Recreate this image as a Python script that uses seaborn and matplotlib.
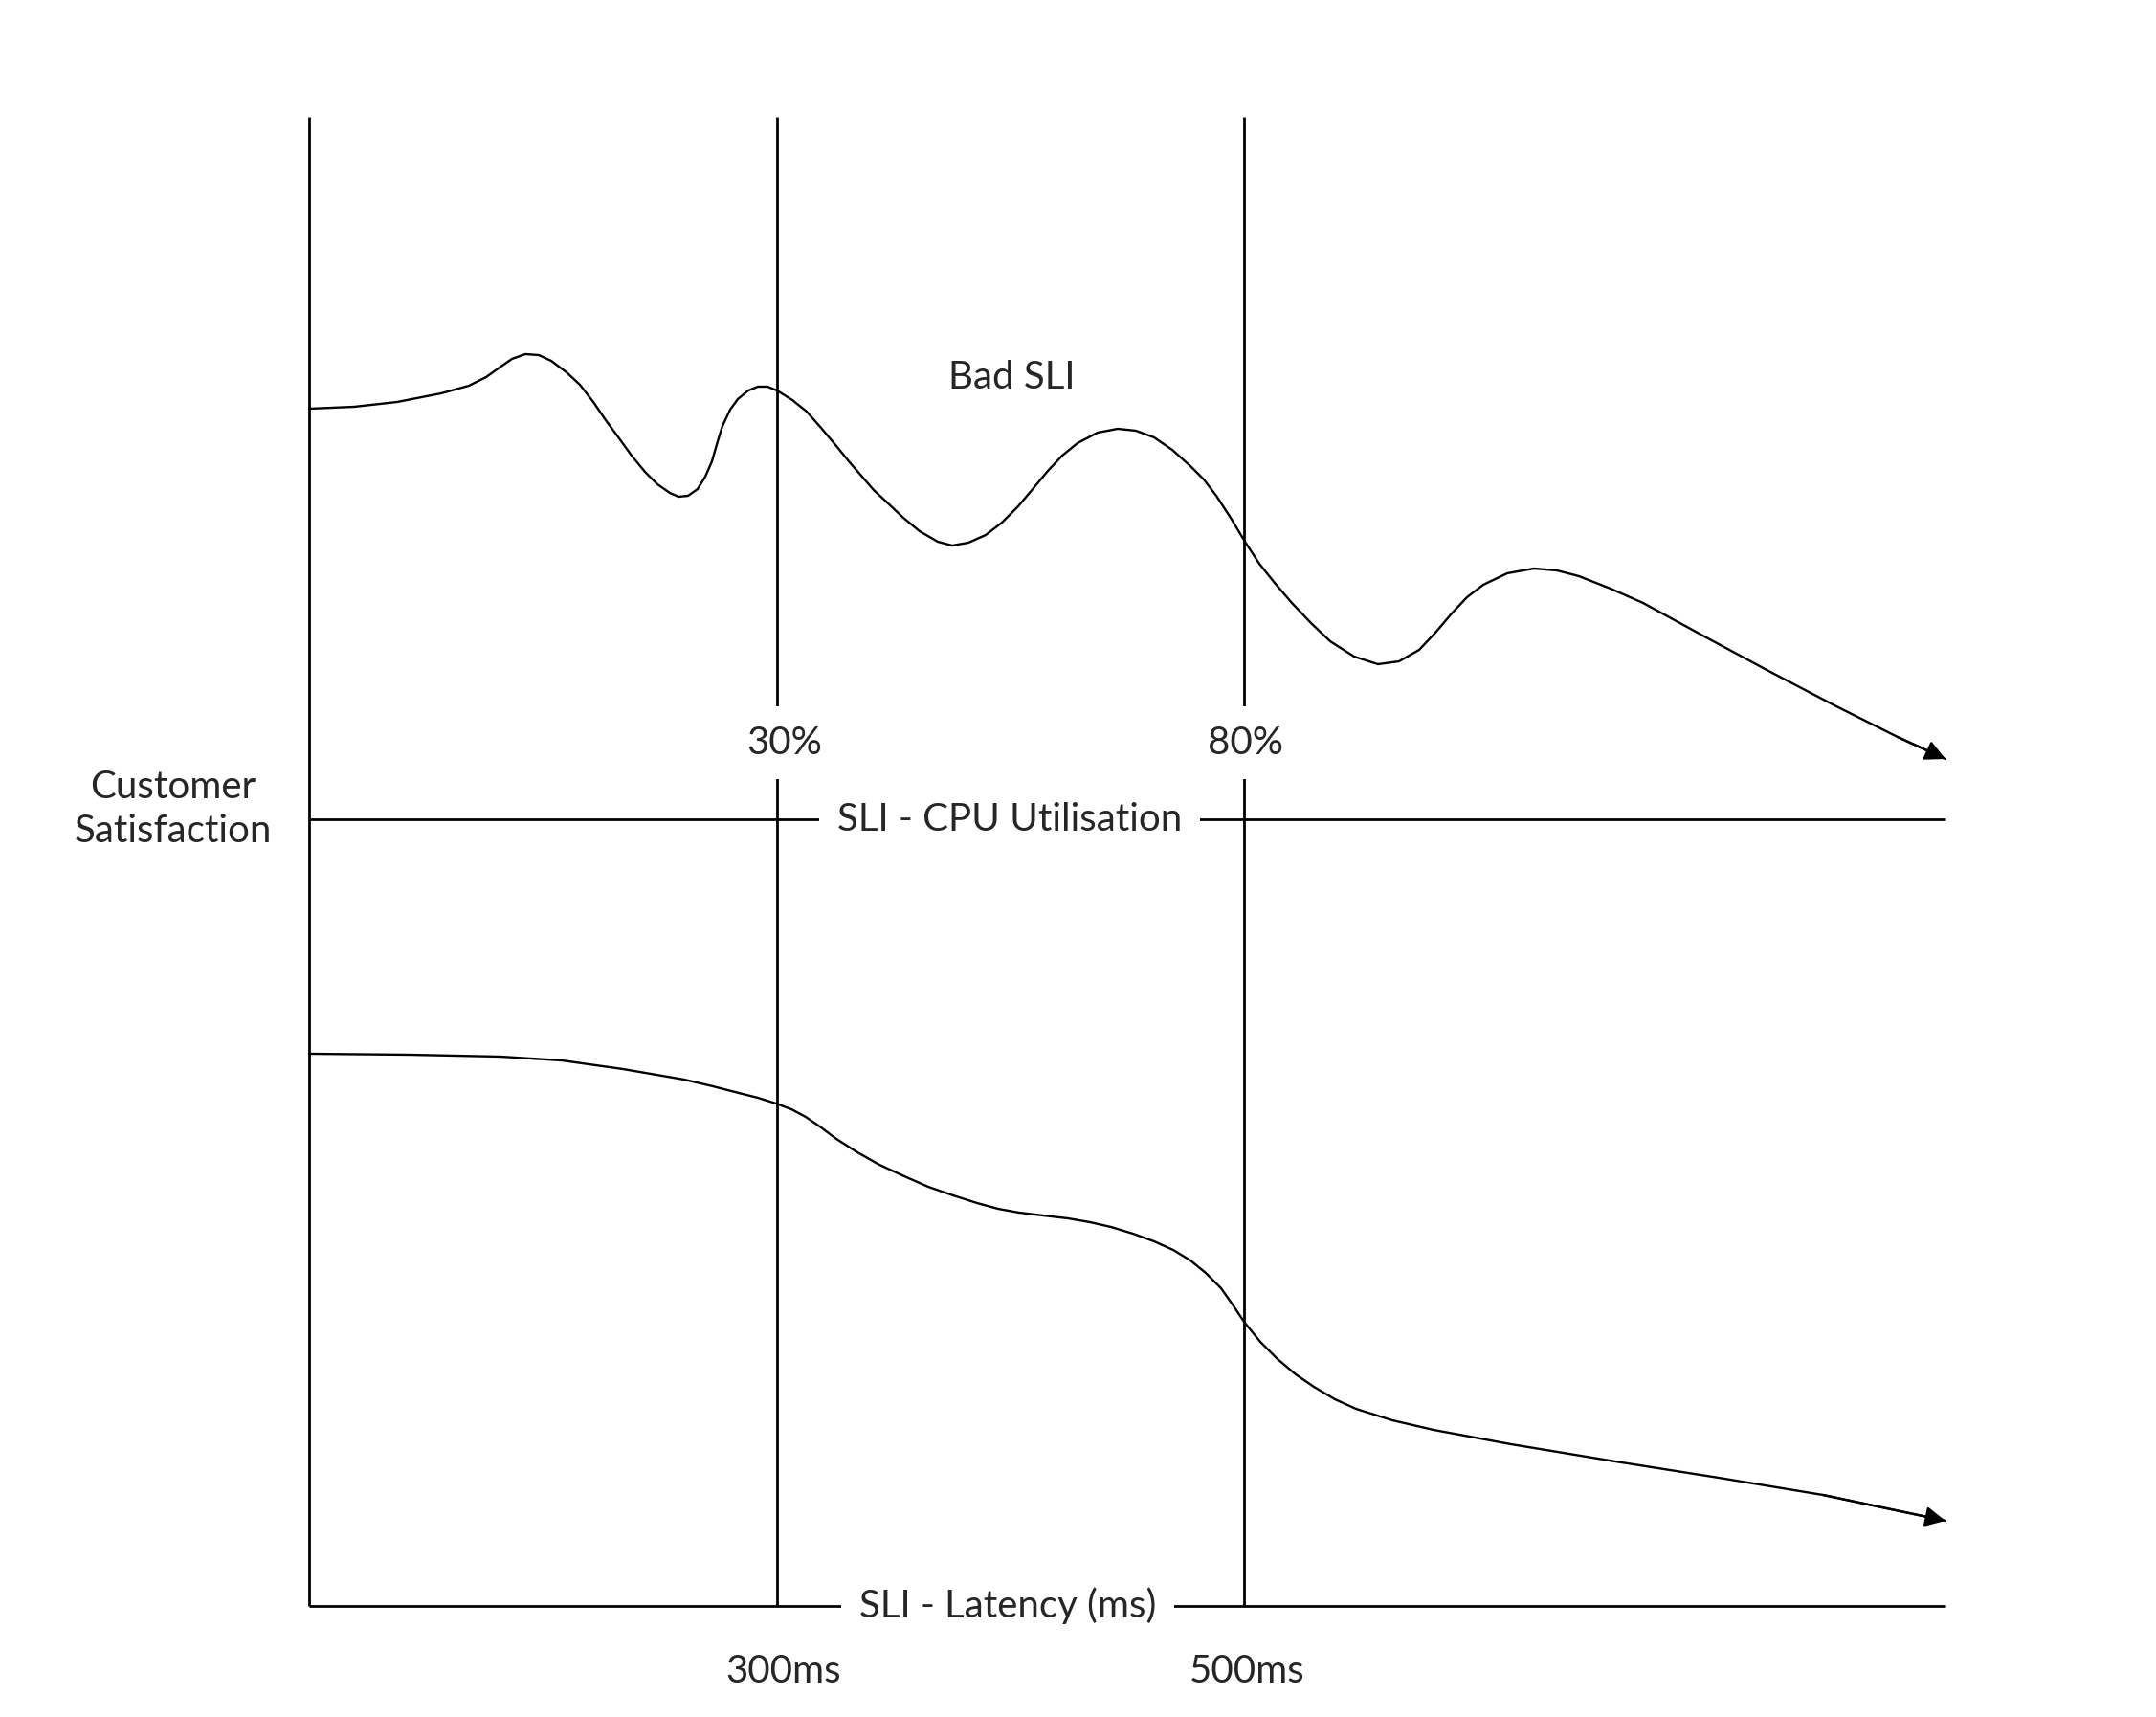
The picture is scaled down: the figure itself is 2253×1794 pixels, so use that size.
import matplotlib
matplotlib.use("Agg")
import matplotlib.pyplot as plt
import pandas as pd
import seaborn as sns

# curves (diagram units = pixels, y grows downwards)
cpu_x = [323, 370, 415, 461, 490, 508, 522, 535, 549, 563, 576, 592, 606, 620, 633, 647,
         660, 674, 687, 700, 709, 719, 729, 737, 744, 750, 755, 763, 771, 782, 792, 802,
         812, 828, 843, 858, 874, 887, 900, 913, 927, 944, 961, 980, 995, 1012, 1030,
         1047, 1064, 1080, 1095, 1110, 1126, 1147, 1168, 1187, 1206, 1225, 1244, 1258,
         1271, 1286, 1301, 1316, 1332, 1350, 1370, 1390, 1415, 1440, 1462, 1483, 1500,
         1517, 1533, 1550, 1575, 1603, 1627, 1650, 1683, 1717, 1750, 1783, 1850, 1917,
         1983, 2033]
cpu_y = [427, 425, 420, 411, 403, 394, 384, 375, 370, 371, 377, 389, 402, 420, 439, 458,
         476, 493, 506, 515, 519, 518, 511, 498, 482, 461, 445, 428, 417, 408, 404, 404,
         408, 418, 430, 447, 466, 482, 497, 512, 525, 541, 555, 566, 570, 567, 559,
         546, 529, 510, 492, 476, 463, 452, 448, 450, 457, 470, 487, 501,
         518, 541, 566, 589, 609, 630, 651, 670, 686, 694, 691, 679, 661,
         641, 624, 611, 599, 594, 596, 602, 615, 630, 648, 666, 702, 737,
         770, 793]

lat_x = [323, 428, 523, 587, 651, 715, 745, 772, 792, 811, 827, 842, 858, 874, 896, 919,
         945, 970, 996, 1021, 1043, 1065, 1090, 1116, 1139, 1161, 1184, 1206, 1226, 1244,
         1260, 1276, 1288, 1300, 1317, 1335, 1354, 1373, 1395, 1417, 1455, 1498, 1579,
         1688, 1796, 1905, 2033]
lat_y = [1101, 1102, 1104, 1108, 1117, 1128, 1135, 1142, 1147, 1153, 1159, 1167, 1178,
         1190, 1204, 1217, 1229, 1240, 1249, 1257, 1263, 1267, 1270, 1273, 1277, 1282,
         1289, 1297, 1306, 1317, 1330, 1346, 1363, 1381, 1402, 1420, 1436, 1449, 1462,
         1472, 1484, 1494, 1509, 1527, 1544, 1562, 1589]

cpu_ticks = ["30%", "80%"]
lat_ticks = ["300ms", "500ms"]

sns.set_style("white")
plt.rcParams["font.family"] = ["Lato", "DejaVu Sans"]

fig = plt.figure(figsize=(22.53, 17.94), dpi=100)
ax = fig.add_axes([0, 0, 1, 1])

# frame of the diagram
lw = 2.0
ax.vlines([323, 812, 1300], 122, 1678, color="black", lw=lw)
ax.hlines([856, 1678], 323, 2033, color="black", lw=lw)

df_cpu = pd.DataFrame({"x": cpu_x, "y": cpu_y})
df_lat = pd.DataFrame({"x": lat_x, "y": lat_y})
sns.lineplot(data=df_cpu, x="x", y="y", sort=False, estimator=None, color="black", lw=1.7, ax=ax)
sns.lineplot(data=df_lat, x="x", y="y", sort=False, estimator=None, color="black", lw=1.7, ax=ax)
ax.set_xlim(0, 2253)
ax.set_ylim(1794, 0)
ax.axis("off")

for xs, ys in [(cpu_x, cpu_y), (lat_x, lat_y)]:
    ax.annotate("", xy=(xs[-1], ys[-1]), xytext=(xs[-2], ys[-2]),
                arrowprops=dict(arrowstyle="-|>", color="black", lw=1.7,
                                mutation_scale=32, shrinkA=0, shrinkB=0))

fs = 29
box = dict(facecolor="white", edgecolor="none", pad=14)
ax.text(1055, 856, "SLI - CPU Utilisation", fontsize=fs, ha="center", va="center", bbox=box)
ax.text(1053, 1678, "SLI - Latency (ms)", fontsize=fs, ha="center", va="center", bbox=box)
for xpos, lab in zip([820, 1302], cpu_ticks):
    ax.text(xpos, 776, lab, fontsize=fs, ha="center", va="center", bbox=box)
for xpos, lab in zip([819, 1303], lat_ticks):
    ax.text(xpos, 1746, lab, fontsize=fs, ha="center", va="center")
ax.text(1057, 394, "Bad SLI", fontsize=fs, ha="center", va="center")
ax.text(181, 845, "Customer\nSatisfaction", fontsize=fs, ha="center", va="center",
        linespacing=1.3)

fig.savefig("out.png", dpi=100, facecolor="white")
